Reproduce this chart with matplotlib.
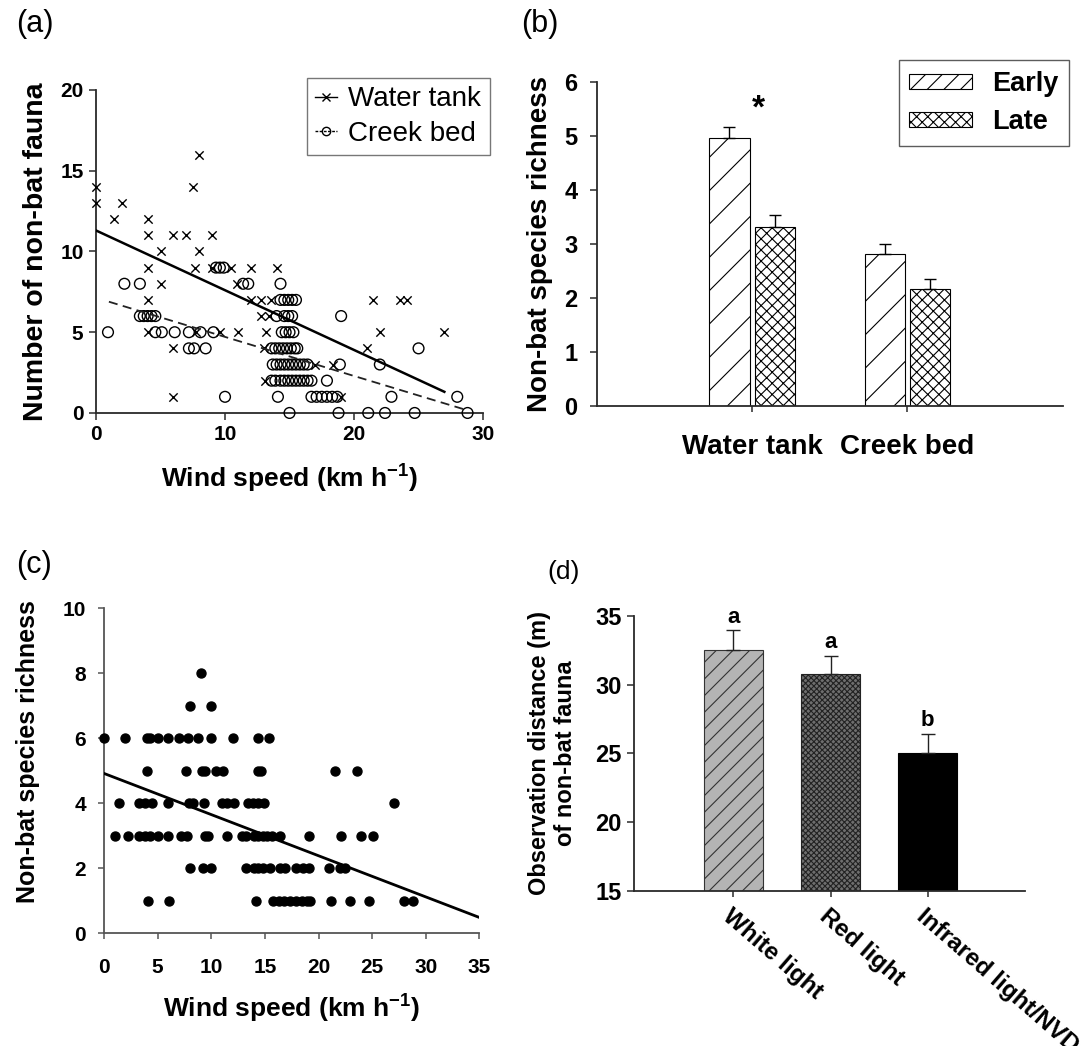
import numpy as np
import matplotlib
matplotlib.use('Agg')
import matplotlib.pyplot as plt
from matplotlib.lines import Line2D
from matplotlib.patches import Patch
from matplotlib.transforms import ScaledTranslation

plt.rcParams['font.family'] = ['Liberation Sans', 'DejaVu Sans']
plt.rcParams['mathtext.fontset'] = 'custom'
plt.rcParams['mathtext.rm'] = 'Liberation Sans'
plt.rcParams['mathtext.bf'] = 'Liberation Sans:bold'
plt.rcParams['hatch.linewidth'] = 0.8

# ---------------- Panel (a) data ----------------
wt_wind = [0, 0, 2, 1.4, 4, 4, 6, 7, 9, 8, 7.5, 5, 8, 4, 7.7, 9, 10.5, 12, 14,
           5, 10.9, 4, 12, 12.8, 13.6, 21.5, 23.6, 24.1, 12.8, 13.4,
           4, 7.75, 9.6, 11, 13.2, 22, 27, 6, 13, 21, 17, 18.4, 13.1, 6, 19]
wt_fauna = [14, 13, 13, 12, 12, 11, 11, 11, 11, 16, 14, 10, 10, 9, 9, 9, 9, 9, 9,
            8, 8, 7, 7, 7, 7, 7, 7, 7, 6, 6,
            5, 5, 5, 5, 5, 5, 5, 4, 4, 4, 3, 3, 2, 1, 1]
cb_wind = [9.3, 9.6, 9.9,
           2.2, 3.4, 11.4, 11.8, 14.3,
           14.3, 14.6, 14.9, 15.2, 15.5,
           3.4, 3.7, 4.0, 4.3, 4.6, 14.0, 14.6, 14.9, 15.2, 19,
           0.93, 4.6, 5.1, 6.1, 7.2, 8.1, 9.1, 14.4, 14.7, 15.0, 15.3,
           7.2, 7.6, 8.5, 13.6, 13.9, 14.2, 14.5, 14.8, 15.1, 15.4, 15.6, 25,
           13.7, 14.0, 14.3, 14.6, 14.9, 15.2, 15.5, 15.8, 16.1, 16.4, 18.9, 22,
           13.6, 13.9, 14.3, 14.6, 14.9, 15.2, 15.5, 15.8, 16.1, 16.4, 16.7, 17.9,
           10, 14.1, 16.7, 17.1, 17.5, 17.9, 18.3, 18.7, 22.9, 28,
           15, 18.8, 21.1, 22.4, 24.7, 28.8]
cb_fauna = [9, 9, 9,
            8, 8, 8, 8, 8,
            7, 7, 7, 7, 7,
            6, 6, 6, 6, 6, 6, 6, 6, 6, 6,
            5, 5, 5, 5, 5, 5, 5, 5, 5, 5, 5,
            4, 4, 4, 4, 4, 4, 4, 4, 4, 4, 4, 4,
            3, 3, 3, 3, 3, 3, 3, 3, 3, 3, 3, 3,
            2, 2, 2, 2, 2, 2, 2, 2, 2, 2, 2, 2,
            1, 1, 1, 1, 1, 1, 1, 1, 1, 1,
            0, 0, 0, 0, 0, 0]
wt_fit = [11.3, -0.37]        # intercept, slope
wt_fit_range = [0, 27]
cb_fit = [7.13, -0.242]
cb_fit_range = [1.0, 28.6]

# ---------------- Panel (b) data ----------------
sites = ['Water tank', 'Creek bed']
early_rich = [4.95, 2.81]
early_se = [0.22, 0.18]
late_rich = [3.31, 2.17]
late_se = [0.23, 0.17]

# ---------------- Panel (c) data ----------------
c_wind = [9,
          8, 10,
          0, 2, 4, 4.3, 5, 6, 7, 7.8, 8.8, 10, 12, 14.4, 15.4,
          4, 7.6, 9.1, 9.4, 10.4, 11.1, 14.4, 14.6, 21.5, 23.6,
          1.4, 3.3, 3.8, 4.5, 6, 7.9, 8.3, 9.3, 11, 11.5, 12.1, 13.4, 13.9, 14.4, 14.9, 27,
          1, 2.2, 3.3, 3.8, 4.3, 5, 6, 7.2, 7.7, 9.4, 9.7, 11.5, 12.9, 13.2, 14, 14.4,
          14.8, 15.2, 15.7, 16.4, 19.1, 22.1, 24, 25.1,
          8, 9.2, 10, 13.2, 14, 14.4, 14.8, 15.5, 16.4, 16.9, 17.9, 18.6, 19.1, 21, 22, 22.5,
          4.1, 6.1, 14.2, 15.8, 16.3, 16.8, 17.3, 17.9, 18.5, 18.9, 19.2, 21.2, 22.9, 24.7, 28, 28.8]
c_rich = [8,
          7, 7,
          6, 6, 6, 6, 6, 6, 6, 6, 6, 6, 6, 6, 6,
          5, 5, 5, 5, 5, 5, 5, 5, 5, 5,
          4, 4, 4, 4, 4, 4, 4, 4, 4, 4, 4, 4, 4, 4, 4, 4,
          3, 3, 3, 3, 3, 3, 3, 3, 3, 3, 3, 3, 3, 3, 3, 3,
          3, 3, 3, 3, 3, 3, 3, 3,
          2, 2, 2, 2, 2, 2, 2, 2, 2, 2, 2, 2, 2, 2, 2, 2,
          1, 1, 1, 1, 1, 1, 1, 1, 1, 1, 1, 1, 1, 1, 1, 1]
c_fit = [4.92, -0.1266]
c_fit_range = [0, 35]

# ---------------- Panel (d) data ----------------
lights = ['White light', 'Red light', 'Infrared light/NVD']
obs_dist = [32.5, 30.75, 25.05]
obs_se = [1.45, 1.35, 1.4]
sig_letters = ['a', 'a', 'b']

# ---------------- Figure ----------------
fig = plt.figure(figsize=(10.86, 10.46), dpi=100)


def style(ax, col='#2a2a2a'):
    for s in ['top', 'right']:
        ax.spines[s].set_visible(False)
    for s in ['left', 'bottom']:
        ax.spines[s].set_color(col)
        ax.spines[s].set_linewidth(1.3)
    ax.tick_params(direction='out', length=5, width=1.1, color=col)


def bold_ticks(ax, size):
    for t in ax.get_xticklabels() + ax.get_yticklabels():
        t.set_fontsize(size)
        t.set_fontweight('bold')


# ---- (a)
ax = fig.add_axes([0.0884, 0.6052, 0.3564, 0.3088])
style(ax)
ax.scatter(wt_wind, wt_fauna, marker='x', s=36, c='black', linewidths=1.0,
           clip_on=False, zorder=3)
ax.scatter(cb_wind, cb_fauna, marker='o', s=60, facecolors='none',
           edgecolors='black', linewidths=1.0, clip_on=False, zorder=3)
xs = np.array(wt_fit_range)
ax.plot(xs, wt_fit[0] + wt_fit[1] * xs, color='black', lw=1.8, zorder=4)
xs = np.array(cb_fit_range)
ax.plot(xs, cb_fit[0] + cb_fit[1] * xs, color='#222222', lw=1.3,
        ls=(0, (5, 3)), zorder=4)
ax.set_xlim(0, 30)
ax.set_ylim(0, 20)
ax.set_xticks([0, 10, 20, 30])
ax.set_yticks([0, 5, 10, 15, 20])
bold_ticks(ax, 15)
ax.tick_params(axis='x', pad=4)
ax.tick_params(axis='y', pad=4)
ax.set_xlabel(r'Wind speed (km h$^{\mathbf{-1}}$)', fontsize=19,
              fontweight='bold', labelpad=12)
ax.set_ylabel('Number of non-bat fauna', fontsize=20.5, fontweight='bold',
              labelpad=8)
h1 = Line2D([], [], color='black', marker='x', ls='-', lw=1.0, ms=6)
h2 = Line2D([], [], color='black', marker='o', mfc='none', ls=(0, (2, 1)),
            lw=1.0, ms=6)
leg = ax.legend([h1, h2], ['Water tank', 'Creek bed'], loc='upper right',
                bbox_to_anchor=(0.451, 0.9254), bbox_transform=fig.transFigure,
                borderaxespad=0, fontsize=20, handlelength=0.8,
                handletextpad=0.4, fancybox=False, frameon=True,
                borderpad=0.3, labelspacing=0.3)
leg.get_frame().set_edgecolor('#555555')
leg.get_frame().set_linewidth(1.0)

# ---- (b)
ax = fig.add_axes([0.5495, 0.6121, 0.4292, 0.3098])
style(ax)
xpos = np.arange(1, len(sites) + 1)
off, w = 0.146, 0.26
ax.bar(xpos - off, early_rich, width=w, color='white', edgecolor='black',
       hatch='/', lw=0.8, zorder=2)
ax.bar(xpos + off, late_rich, width=w, color='white', edgecolor='black',
       hatch='xxx', lw=0.8, zorder=2)
ax.errorbar(xpos - off, early_rich, yerr=[np.zeros(len(sites)), early_se],
            fmt='none', ecolor='black', elinewidth=1.0, capsize=4,
            capthick=1.0, zorder=3)
ax.errorbar(xpos + off, late_rich, yerr=[np.zeros(len(sites)), late_se],
            fmt='none', ecolor='black', elinewidth=1.0, capsize=4,
            capthick=1.0, zorder=3)
ax.text(1.04, 5.5, '*', fontsize=24, fontweight='bold', ha='center',
        va='center')
ax.set_xlim(0, 3)
ax.set_ylim(0, 6)
ax.set_xticks(xpos)
ax.set_xticklabels(sites)
ax.set_yticks(range(0, 7))
bold_ticks(ax, 17)
for t in ax.get_xticklabels():
    t.set_fontsize(20)
ax.tick_params(axis='x', length=4, pad=16)
ax.tick_params(axis='y', pad=9)
ax.set_ylabel('Non-bat species richness', fontsize=20, fontweight='bold',
              labelpad=8)
hb1 = Patch(facecolor='white', edgecolor='black', hatch='//', lw=0.8)
hb2 = Patch(facecolor='white', edgecolor='black', hatch='xxx', lw=0.8)
leg = ax.legend([hb1, hb2], ['Early', 'Late'], loc='upper right',
                bbox_to_anchor=(0.9846, 0.9426), bbox_transform=fig.transFigure,
                borderaxespad=0, prop={'size': 19.5, 'weight': 'bold'},
                handlelength=2.3, handleheight=0.45, handletextpad=0.75,
                fancybox=False, borderpad=0.4, labelspacing=0.45)
leg.get_frame().set_edgecolor('#333333')
leg.get_frame().set_linewidth(1.0)

# ---- (c)
ax = fig.add_axes([0.0958, 0.1077, 0.3456, 0.3107])
style(ax, '#555555')
ax.scatter(c_wind, c_rich, s=42, c='black', clip_on=False, zorder=3)
xs = np.array(c_fit_range)
ax.plot(xs, c_fit[0] + c_fit[1] * xs, color='black', lw=2.0, zorder=4)
ax.set_xlim(0, 35)
ax.set_ylim(0, 10)
ax.set_xticks(range(0, 36, 5))
ax.set_yticks(range(0, 11, 2))
bold_ticks(ax, 15)
ax.tick_params(axis='x', length=4, pad=14)
ax.tick_params(axis='y', length=4, pad=9)
ax.set_xlabel(r'Wind speed (km h$^{\mathbf{-1}}$)', fontsize=19,
              fontweight='bold', labelpad=10)
ax.set_ylabel('Non-bat species richness', fontsize=18, fontweight='bold')
ax.yaxis.set_label_coords(-0.17, 0.56)

# ---- (d)
ax = fig.add_axes([0.5834, 0.1482, 0.3600, 0.2629])
style(ax)
dpos = np.arange(1, len(lights) + 1)
faces = ['#b4b4b4', '#6e6e6e', '#000000']
hatches = ['//', 'xxxxxx', None]
edges = ['#333333', '#222222', '#000000']
for xp, val, fc, ht, ec in zip(dpos, obs_dist, faces, hatches, edges):
    ax.bar(xp, val - 15, bottom=15, width=0.61, color=fc, edgecolor=ec,
           hatch=ht, lw=0.8, zorder=2)
ax.errorbar(dpos, obs_dist, yerr=[np.zeros(len(lights)), obs_se], fmt='none',
            ecolor='#222222', elinewidth=1.0, capsize=5, capthick=1.0, zorder=3)
for xp, val, se, lt in zip(dpos, obs_dist, obs_se, sig_letters):
    ax.text(xp, val + se + 0.2, lt, ha='center', va='bottom', fontsize=16,
            fontweight='bold')
ax.set_xlim(-0.03, 4.0)
ax.set_ylim(15, 35)
ax.set_yticks(range(15, 36, 5))
ax.set_xticks(dpos)
ax.set_xticklabels(lights, rotation=-41, ha='left', va='top',
                   rotation_mode='anchor')
bold_ticks(ax, 17)
for t in ax.get_xticklabels():
    t.set_fontsize(17.5)
    t.set_transform(t.get_transform() +
                    ScaledTranslation(0.2, 0, fig.dpi_scale_trans))
ax.tick_params(axis='x', length=4, pad=6)
ax.set_ylabel('Observation distance (m)\nof non-bat fauna', fontsize=17,
              fontweight='bold', labelpad=13, linespacing=1.2)

# ---- panel letters
fig.text(0.032, 0.977, '(a)', fontsize=22, ha='center', va='center')
fig.text(0.497, 0.977, '(b)', fontsize=22, ha='center', va='center')
fig.text(0.031, 0.460, '(c)', fontsize=22, ha='center', va='center')
fig.text(0.519, 0.453, '(d)', fontsize=19, ha='center', va='center')

fig.savefig('out.png', dpi=100)
